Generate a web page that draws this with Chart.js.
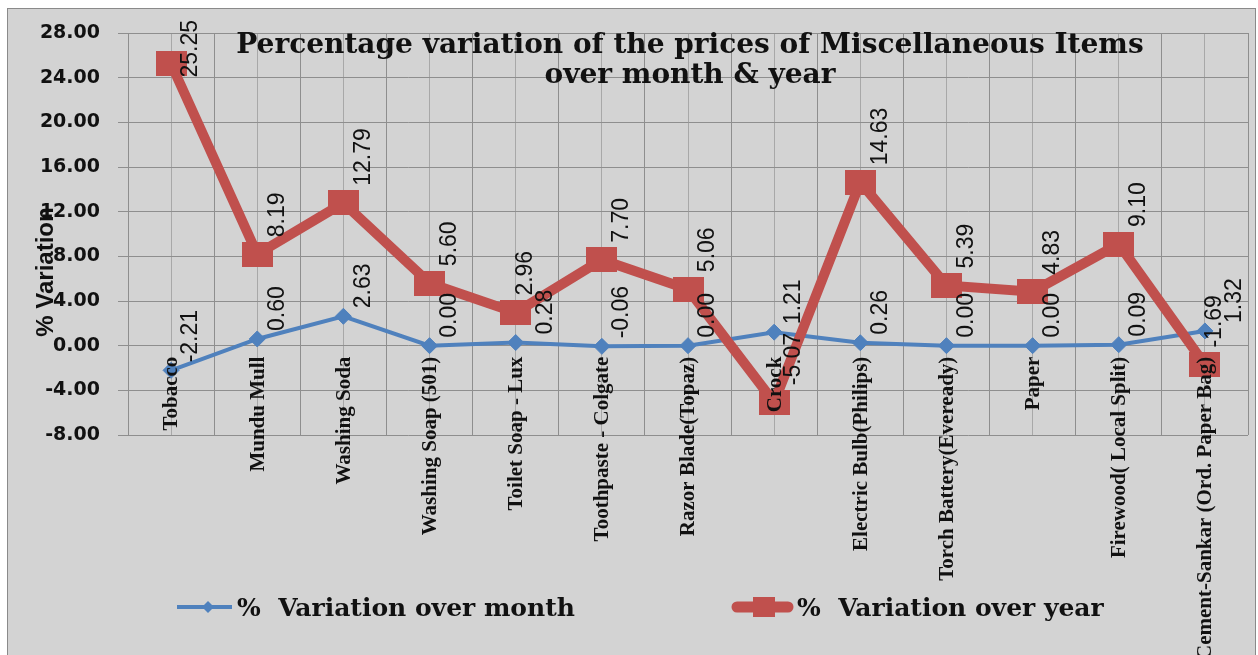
<!DOCTYPE html>
<html>
<head>
<meta charset="utf-8">
<script src="https://cdn.jsdelivr.net/npm/chart.js@4.4.1/dist/chart.umd.min.js"></script>
<style>
html,body{margin:0;padding:0;background:#ffffff;overflow:hidden;}
#wrap{width:1258px;height:655px;position:relative;}
canvas{display:block;}
</style>
</head>
<body>
<div id="wrap"><canvas id="c" width="1258" height="655"></canvas></div>
<script>
// ---- data ----
const categories = ["Tobacco","Mundu Mull","Washing Soda","Washing Soap (501)","Toilet Soap - Lux","Toothpaste - Colgate","Razor Blade(Topaz)","Crock","Electric Bulb(Philips)","Torch Battery(Eveready)","Paper","Firewood( Local Split)","Cement-Sankar (Ord. Paper Bag)"];
const overMonth = [-2.21, 0.60, 2.63, 0.00, 0.28, -0.06, 0.00, 1.21, 0.26, 0.00, 0.00, 0.09, 1.32];
const overYear  = [25.25, 8.19, 12.79, 5.60, 2.96, 7.70, 5.06, -5.07, 14.63, 5.39, 4.83, 9.10, -1.69];
const seriesNames = ["%  Variation over month", "%  Variation over year"];
const yTickValues = [-8, -4, 0, 4, 8, 12, 16, 20, 24, 28];
const titleLines = ["Percentage variation of the prices of Miscellaneous Items", "over month & year"];
const yAxisTitle = "% Variation";

// ---- styles ----
const BLUE = '#4F81BD';
const RED = '#C0504D';
const BG = '#d3d3d3';
const GRID = '#8e8e8e';
const GRID_MINOR = '#a8a8a8';

function rectImage(w, h, color) {
  const c = document.createElement('canvas');
  c.width = w; c.height = h;
  const g = c.getContext('2d');
  g.fillStyle = color;
  g.fillRect(0, 0, w, h);
  return c;
}
const redMarker = rectImage(31, 25, RED);

const deco = {
  id: 'deco',
  beforeDraw(chart) {
    const ctx = chart.ctx;
    ctx.save();
    ctx.fillStyle = '#ffffff';
    ctx.fillRect(0, 0, chart.width, chart.height);
    ctx.fillStyle = BG;
    ctx.fillRect(7.5, 8.5, 1248, 660);
    ctx.strokeStyle = '#8a8a8a';
    ctx.lineWidth = 1;
    ctx.strokeRect(7.5, 8.5, 1248, 660);
    ctx.restore();
  },
  afterDatasetsDraw(chart) {
    const ctx = chart.ctx;
    const xs = chart.scales.x, ys = chart.scales.y;
    const y0 = ys.getPixelForValue(0);
    ctx.save();
    // category labels hanging from the zero line
    ctx.fillStyle = '#111111';
    ctx.font = 'bold 21px "Liberation Serif", "Times New Roman", serif';
    ctx.textAlign = 'right';
    ctx.textBaseline = 'middle';
    categories.forEach((lab, i) => {
      const x = xs.getPixelForValue(i);
      ctx.save();
      ctx.translate(x + 1, y0 + 11);
      ctx.rotate(-Math.PI / 2);
      ctx.fillText(lab, 0, 0);
      ctx.restore();
    });
    // data labels (rotated, to the right of each point)
    ctx.font = '23px "Liberation Sans", Arial, sans-serif';
    ctx.textAlign = 'left';
    ctx.textBaseline = 'middle';
    const lift = [8, 17];
    const boxes = chart.data.datasets.map((ds, di) => {
      const meta = chart.getDatasetMeta(di);
      return meta.data.map((pt, i) => {
        const txt = ds.data[i].toFixed(2);
        const w = ctx.measureText(txt).width;
        let bottom = pt.y - lift[di];
        if (bottom - w < 20) bottom = 20 + w;
        return { txt, x: pt.x, bottom, top: bottom - w };
      });
    });
    categories.forEach((c, i) => {
      const a = boxes[0][i], b = boxes[1][i];
      const clash = a.top < b.bottom && b.top < a.bottom;
      a.dx = clash ? 30 : 20;
      b.dx = clash ? 10 : 20;
    });
    boxes.forEach(list => list.forEach(l => {
      ctx.save();
      ctx.translate(l.x + l.dx, l.bottom);
      ctx.rotate(-Math.PI / 2);
      ctx.fillText(l.txt, 0, 0);
      ctx.restore();
    }));
    ctx.restore();
  },
  afterDraw(chart) {
    const ctx = chart.ctx;
    const area = chart.chartArea;
    ctx.save();
    // title
    ctx.fillStyle = '#111111';
    ctx.font = 'bold 28px "DejaVu Serif", serif';
    ctx.textAlign = 'center';
    ctx.textBaseline = 'alphabetic';
    const cx = (area.left + area.right) / 2 + 2;
    ctx.fillText(titleLines[0], cx, 53);
    ctx.fillText(titleLines[1], cx, 83);
    // y axis title
    ctx.font = 'bold 24px "Liberation Sans", Arial, sans-serif';
    ctx.textBaseline = 'middle';
    ctx.save();
    ctx.translate(46, 272);
    ctx.rotate(-Math.PI / 2);
    ctx.fillText(yAxisTitle, 0, 0);
    ctx.restore();
    // legend
    const ly = 607;
    ctx.lineCap = 'butt';
    ctx.strokeStyle = BLUE; ctx.lineWidth = 4;
    ctx.beginPath(); ctx.moveTo(177, ly); ctx.lineTo(232, ly); ctx.stroke();
    ctx.fillStyle = BLUE;
    ctx.beginPath(); ctx.moveTo(208, ly - 6); ctx.lineTo(214, ly); ctx.lineTo(208, ly + 6); ctx.lineTo(202, ly); ctx.closePath(); ctx.fill();
    ctx.strokeStyle = RED; ctx.lineWidth = 11; ctx.lineCap = 'round';
    ctx.beginPath(); ctx.moveTo(737, ly); ctx.lineTo(788, ly); ctx.stroke();
    ctx.fillStyle = RED;
    ctx.fillRect(753, ly - 10, 22, 20);
    ctx.fillStyle = '#111111';
    ctx.font = 'bold 25px "DejaVu Serif", serif';
    ctx.textAlign = 'left';
    ctx.textBaseline = 'alphabetic';
    ctx.fillText(seriesNames[0], 237, 616);
    ctx.fillText(seriesNames[1], 797, 616);
    ctx.restore();
  }
};

new Chart(document.getElementById('c'), {
  type: 'line',
  data: {
    labels: categories,
    datasets: [
      {
        label: seriesNames[0],
        data: overMonth,
        borderColor: BLUE,
        backgroundColor: BLUE,
        borderWidth: 4,
        pointStyle: 'rectRot',
        pointRadius: 8,
        pointBackgroundColor: BLUE,
        pointBorderColor: BLUE,
        pointBorderWidth: 1,
        tension: 0,
        order: 2
      },
      {
        label: seriesNames[1],
        data: overYear,
        borderColor: RED,
        backgroundColor: RED,
        borderWidth: 10,
        pointStyle: redMarker,
        pointRadius: 13,
        tension: 0,
        order: 1
      }
    ]
  },
  options: {
    responsive: false,
    animation: false,
    devicePixelRatio: 1,
    layout: { autoPadding: false, padding: { left: 0, top: 33, right: 10, bottom: 210 } },
    plugins: {
      legend: { display: false },
      title: { display: false },
      tooltip: { enabled: false }
    },
    scales: {
      x: {
        type: 'category',
        offset: true,
        grid: { display: true, offset: false, color: GRID_MINOR, drawTicks: false },
        border: { display: false },
        ticks: { display: false },
        afterFit(s) { s.height = 10; }
      },
      x2: {
        type: 'category',
        position: 'bottom',
        offset: true,
        grid: { display: true, offset: true, color: GRID, drawTicks: false },
        border: { display: false },
        ticks: { display: false },
        afterFit(s) { s.height = 0; }
      },
      y: {
        min: -8,
        max: 28,
        afterBuildTicks(s) { s.ticks = yTickValues.map(v => ({ value: v })); },
        grid: { color: GRID, tickLength: 10, drawTicks: true, tickColor: GRID },
        border: { display: true, color: GRID },
        ticks: {
          padding: 18,
          color: '#111111',
          font: { family: '"DejaVu Sans", sans-serif', size: 19, weight: 'bold' },
          callback: v => Number(v).toFixed(2)
        },
        afterFit(s) { s.width = 128; }
      }
    }
  },
  plugins: [deco]
});
</script>
</body>
</html>
